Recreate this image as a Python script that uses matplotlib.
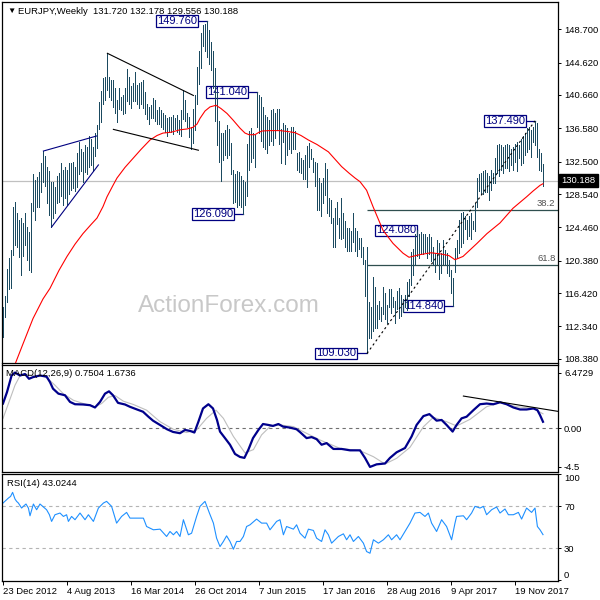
import matplotlib
matplotlib.use("Agg")
import matplotlib.pyplot as plt
from matplotlib.transforms import blended_transform_factory

plt.rcParams['font.family'] = ['Liberation Sans', 'DejaVu Sans']

# weekly EURJPY bars, index 0 = week of 23 Dec 2012
high = [
    114.7, 116.0, 119.4, 120.7, 121.7, 127.0, 127.6, 126.2, 125.4, 125.6,
    125.0, 126.2, 124.5, 123.9, 127.4, 131.0, 130.3, 130.6, 131.2, 132.3,
    133.8, 133.2, 131.9, 131.3, 130.0, 130.0, 129.4, 130.7, 131.1, 132.3,
    131.5, 131.9, 131.5, 132.3, 132.3, 132.5, 131.9, 133.5, 134.9, 134.1,
    133.7, 134.5, 134.3, 135.6, 135.3, 134.3, 136.0, 137.0, 139.8, 141.1,
    142.7, 142.9, 145.76, 142.9, 142.5, 142.5, 141.5, 140.05, 141.5, 140.45,
    140.65, 141.5, 143.9, 142.9, 141.7, 142.1, 143.5, 141.9, 142.1, 142.3,
    142.5, 141.07, 139.6, 139.2, 139.4, 140.25, 140.05, 138.8, 139.2, 138.8,
    138.4, 138.2, 137.8, 138.0, 138.0, 138.2, 137.8, 138.2, 137.6, 138.8,
    141.3, 140.05, 138.4, 138.0, 136.8, 139.0, 140.7, 144.1, 146.0, 148.2,
    149.2, 149.4, 149.76, 148.6, 147.2, 146.0, 144.0, 141.0, 137.5, 136.0,
    136.0, 136.4, 137.0, 136.5, 134.8, 131.5, 131.0, 131.3, 131.2, 130.8,
    130.2, 130.0, 134.7, 136.2, 136.6, 136.0, 135.8, 141.04, 140.6, 140.4,
    139.2, 138.2, 138.0, 137.6, 138.8, 139.0, 138.5, 139.0, 139.0, 136.5,
    137.2, 137.0, 136.6, 136.0, 136.8, 136.8, 136.2, 133.5, 133.7, 132.9,
    132.7, 133.3, 134.4, 134.8, 134.0, 132.9, 132.5, 132.3, 130.5, 129.9,
    130.5, 132.3, 131.6, 128.0, 127.8, 125.6, 126.8, 127.6, 125.6, 128.0,
    126.2, 125.2, 124.4, 124.4, 124.0, 126.2, 124.4, 124.0, 123.2, 123.2,
    122.0, 120.5, 122.1, 115.3, 114.7, 118.4, 117.2, 114.9, 115.5, 114.7,
    117.2, 116.4, 115.0, 116.9, 116.9, 115.9, 115.5, 116.7, 117.0, 116.2,
    115.7, 116.2, 117.8, 118.1, 121.4, 121.8, 123.6, 124.08, 123.7, 123.9,
    123.7, 123.7, 123.3, 123.7, 123.3, 122.1, 121.3, 122.9, 122.5, 121.3,
    122.9, 121.7, 121.3, 120.5, 119.3, 118.3, 121.9, 122.9, 125.4, 126.2,
    126.4, 125.8, 125.4, 125.8, 126.2, 125.2, 127.4, 130.5, 131.0, 131.1,
    131.3, 131.5, 131.1, 130.7, 131.5, 131.1, 133.0, 134.5, 134.7, 134.5,
    134.3, 134.5, 134.7, 134.5, 134.1, 134.3, 134.7, 134.9, 134.6, 135.3,
    135.6, 136.0, 136.6, 136.8, 136.4, 136.7, 137.49, 137.2, 134.1, 133.5,
    132.178]
low = [
    111.1, 113.5, 115.3, 116.9, 117.0, 121.1, 122.3, 122.0, 120.8, 118.6,
    120.9, 122.3, 120.5, 119.2, 119.0, 126.5, 125.4, 127.0, 127.0, 128.8,
    130.0, 129.5, 127.5, 126.0, 124.5, 125.6, 126.2, 127.4, 127.6, 128.3,
    127.2, 128.0, 127.2, 128.5, 129.0, 129.3, 128.9, 129.4, 131.0, 131.3,
    130.0, 131.2, 131.0, 131.8, 132.1, 131.3, 133.2, 134.2, 136.5, 137.3,
    139.5, 140.0, 141.3, 140.45, 140.05, 139.2, 138.4, 137.4, 139.0, 138.8,
    138.3, 138.5, 139.9, 139.5, 139.1, 139.9, 139.9, 139.5, 139.1, 139.5,
    139.1, 138.3, 137.7, 137.1, 137.9, 137.9, 137.5, 137.1, 137.1, 136.7,
    136.5, 136.1, 135.7, 136.1, 136.1, 135.9, 136.5, 136.1, 135.9, 135.7,
    137.7, 137.5, 136.7, 135.5, 134.1, 134.8, 136.4, 139.6, 142.0, 144.0,
    146.6, 146.0, 145.35, 144.4, 143.7, 141.5, 137.5, 134.5, 132.5, 130.1,
    132.7, 133.3, 133.0, 133.3, 131.0, 127.4, 127.6, 127.0, 127.2, 127.0,
    126.09, 127.2, 128.3, 131.5, 132.4, 133.0, 131.9, 136.8, 136.0, 135.0,
    134.3, 134.0, 133.5, 134.6, 135.0, 134.5, 135.4, 136.4, 134.7, 132.3,
    134.9, 132.2, 133.3, 134.1, 133.5, 134.1, 134.1, 131.5, 131.2, 131.1,
    130.4, 130.4, 129.4, 131.9, 132.8, 131.2, 129.5, 126.6, 126.6, 125.8,
    127.5, 128.4, 126.2, 125.8, 125.0, 122.0, 122.0, 124.9, 123.2, 123.0,
    123.1, 122.0, 121.6, 121.6, 121.6, 122.7, 121.6, 121.0, 121.8, 120.8,
    120.0, 116.0, 109.03, 110.9, 110.9, 111.8, 112.2, 112.1, 113.3, 113.0,
    113.9, 113.3, 112.8, 114.7, 114.0, 114.7, 112.8, 114.5, 113.4, 113.6,
    114.1, 114.7, 114.3, 116.0, 117.4, 118.6, 119.9, 121.0, 120.7, 121.2,
    121.2, 121.5, 120.7, 121.2, 120.3, 119.8, 119.0, 120.0, 118.2, 118.9,
    120.0, 119.9, 118.9, 118.5, 116.4, 114.84, 119.0, 120.7, 121.3, 122.1,
    122.6, 124.2, 123.0, 123.4, 123.0, 124.2, 124.0, 127.0, 128.9, 128.5,
    128.5, 128.8, 128.8, 127.8, 129.0, 129.9, 129.9, 131.1, 130.7, 131.5,
    131.1, 131.7, 131.7, 131.3, 132.1, 131.5, 132.5, 131.3, 132.9, 132.1,
    132.3, 133.3, 133.7, 134.1, 133.1, 134.9, 134.5, 133.1, 131.5, 131.3,
    129.556]
last_ohlc = [131.720, 132.178, 129.556, 130.188]

# 55 week moving average (red), read at these week indexes
ma_idx = [0, 6, 10, 15, 20, 23.5, 28, 32, 36, 40, 44, 47, 50, 52, 55, 57, 61, 65,
          69, 73.5, 77, 80, 84, 88.5, 92, 95, 97, 98.5, 101, 103.5, 105, 106.5,
          109, 112, 115, 118.5, 121, 123, 126, 128, 129.5, 133, 138.5, 142, 146,
          149, 152.7, 157, 162.7, 166, 169.3, 173, 176, 178.5, 181.8, 185, 190,
          195, 200, 203, 208, 214, 219, 223, 226, 230, 233.5, 237, 242, 248.5,
          255, 261.8, 265, 268.5, 270]
ma_val = [104.0, 107.7, 110.2, 113.3, 115.7, 117.0, 119.2, 120.9, 122.4, 123.7,
          124.8, 125.6, 127.0, 128.2, 129.6, 130.5, 131.8, 132.9, 134.0, 135.15,
          135.7, 136.0, 136.1, 136.4, 136.5, 136.7, 137.1, 137.8, 138.7, 139.2,
          139.3, 139.4, 139.0, 138.4, 137.6, 136.6, 136.0, 135.8, 135.8, 136.1,
          136.25, 136.3, 136.3, 136.2, 136.05, 135.7, 135.15, 134.6, 133.7, 132.8,
          131.9, 131.1, 130.5, 130.05, 129.0, 127.0, 124.1, 122.5, 121.3, 120.8,
          121.1, 121.35, 121.2, 121.0, 120.5, 120.9, 121.7, 122.5, 123.7, 125.0,
          126.8, 128.2, 128.9, 129.6, 129.8]

macd_idx = [0, 2, 4.3, 6, 8.5, 11, 13, 15, 18.5, 21.8, 23.5, 25, 27.7, 31, 33.5,
            36, 40, 43.5, 46, 48.5, 51, 53, 55, 57.5, 61, 63.5, 67, 70, 72.7, 75,
            78.5, 82, 85, 88.5, 91, 93.5, 95.7, 97.7, 100, 102.7, 105, 107, 108.5,
            111, 113.5, 116, 118.5, 120.7, 122.7, 125, 127.7, 130, 132.7, 135,
            137.7, 140, 143.5, 146.8, 148.5, 151.8, 154.3, 156.8, 159.3, 161.8,
            165.2, 169.3, 173.5, 178.5, 181, 183.5, 186.8, 191, 193.5, 196.8, 201,
            204.3, 206.8, 210.2, 213.2, 216.8, 219.3, 221.8, 224.8, 226.8, 229.3,
            231.8, 235.2, 238.5, 241.8, 245.2, 248.5, 251.8, 255.2, 258.5, 261.8,
            265.2, 267.2, 268.5, 270]
macd_val = [2.87, 4.2, 6.13, 6.47, 6.13, 6.3, 5.75, 5.94, 6.13, 6.0, 5.36, 4.6,
            4.02, 3.83, 3.06, 2.79, 2.76, 2.68, 2.41, 3.06, 4.02, 4.29, 3.83, 2.95,
            2.76, 2.49, 2.18, 1.92, 1.34, 0.88, 0.38, -0.12, -0.43, -0.58, -0.2,
            -0.31, -0.5, 0.76, 2.3, 2.79, 2.3, 0.96, -0.39, -1.15, -1.92, -2.99,
            -3.34, -3.45, -2.49, -1.15, -0.2, 0.49, 0.38, 0.27, 0.49, 0.19, 0.07,
            -0.12, -0.45, -1.15, -1.03, -1.27, -1.92, -1.73, -2.41, -2.41, -2.57,
            -2.57, -3.45, -4.5, -4.2, -4.1, -3.45, -2.8, -2.3, -0.96, 0.38, 1.41,
            1.64, 0.88, 0.96, 0.38, -0.39, 0.38, 1.15, 1.34, 2.1, 2.79, 2.87, 2.79,
            3.02, 2.79, 2.41, 2.18, 2.18, 2.3, 2.1, 1.53, 0.7504]
sig_idx = [0, 2.7, 6, 8.5, 11.8, 15.2, 20.2, 22.7, 26, 30.2, 35.2, 40.2, 46, 49.3,
           52.7, 56, 60.2, 65.2, 71.8, 78.5, 85.2, 91.8, 96.8, 101.8, 106.5, 110.2,
           115.2, 121, 125.2, 129.3, 133.5, 138.5, 145.2, 148.5, 158.5, 168.5,
           178.5, 185.2, 191, 196.8, 203.5, 210.2, 215.2, 221.8, 226.8, 233.5,
           241.8, 248.5, 256.8, 265.2, 270]
sig_val = [1.14, 2.86, 5.0, 6.1, 6.3, 6.1, 6.1, 5.7, 5.0, 4.0, 3.25, 2.87, 2.49,
           2.87, 3.6, 3.8, 3.14, 2.76, 2.1, 0.76, -0.12, -0.5, -0.2, 1.15, 2.1, 1.15,
           -0.96, -2.87, -2.49, -0.77, 0.19, 0.38, 0.19, -0.21, -1.37, -2.34, -2.61,
           -3.31, -4.16, -3.5, -2.22, 0.17, 1.27, 0.76, 0.26, 1.03, 2.5, 2.97, 2.5,
           2.31, 1.6736]
macd_trend_idx = [230.2, 277.25]
macd_trend_val = [3.74, 1.97]

rsi_idx = [0, 1.5, 2.7, 3.8, 4.8, 6, 6.8, 7.7, 9.3, 10.5, 11.5, 12.7, 13.5, 15.2,
           16.8, 18.5, 20.2, 21.8, 23.2, 24.3, 26, 28.5, 30.2, 31.8, 32.7, 34.3, 36,
           38.5, 41, 42.7, 45.2, 47.7, 50.2, 51.8, 54.3, 56.8, 59.3, 61.8, 63.5,
           66.8, 70.2, 71.8, 75.2, 78.5, 81.8, 83.5, 85.2, 86.8, 88.5, 90.2, 92.7,
           94.3, 96.8, 98.5, 101, 103.2, 105.2, 106.8, 108.5, 110.2, 111.8, 113.5,
           115.2, 116.8, 118.5, 120.2, 121.8, 123.5, 126.8, 129.3, 131.8, 133.5,
           136.8, 138.5, 140.2, 141.8, 145.2, 146.8, 148.5, 151, 152.7, 155.2,
           156.8, 159.3, 161, 162.7, 164.3, 166, 167.7, 170.2, 171.8, 173.5, 175.2,
           177.7, 180.2, 181.8, 183.5, 185.2, 187.7, 190.2, 192.7, 194.3, 196.8,
           198.5, 201, 203.5, 206, 208.5, 211, 212.7, 214.3, 216.8, 219.3, 221.8,
           224.3, 226, 226.8, 230.2, 231.8, 234.3, 236, 238.5, 240.2, 241.8, 244.3,
           246.8, 248.5, 251, 252.7, 255.2, 257.7, 259.3, 261.8, 264.3, 266, 267.2,
           268.5, 270]
rsi_val = [72.8, 75.4, 77.5, 79.1, 82.9, 76.6, 74.4, 72.8, 68.1, 70.3, 71.9, 68.1,
           60.8, 71.9, 66.5, 71.9, 69.1, 66.5, 61.8, 55.5, 61.8, 63.4, 60.2, 61.8,
           55.5, 60.2, 57.1, 63.4, 57.1, 61.8, 55.5, 68.1, 72.8, 74.4, 69.7, 53.9,
           60.2, 64.0, 58.6, 58.6, 58.6, 50.7, 47.6, 48.2, 41.3, 46.0, 42.9, 46.0,
           41.3, 57.1, 42.9, 44.4, 60.2, 69.7, 74.4, 63.4, 53.9, 39.7, 31.8, 36.6,
           41.9, 36.6, 29.3, 36.6, 36.6, 41.3, 50.7, 52.3, 57.7, 53.9, 53.9, 47.6,
           55.5, 57.1, 42.9, 50.7, 48.2, 52.3, 44.4, 39.7, 48.2, 47.0, 39.7, 36.6,
           47.6, 42.9, 35.0, 38.2, 41.3, 43.8, 38.2, 42.9, 36.6, 41.3, 35.0, 27.1,
           25.5, 38.2, 35.0, 38.2, 42.9, 38.2, 42.9, 38.2, 46.0, 53.9, 63.4, 64.0,
           60.2, 63.4, 53.9, 46.0, 57.1, 50.7, 38.2, 53.9, 60.2, 60.8, 57.1, 63.4,
           69.7, 68.1, 69.7, 61.8, 66.5, 69.1, 63.4, 67.2, 61.8, 61.8, 64.0, 57.7,
           68.1, 64.0, 68.1, 50.7, 47.6, 43.0244]

price_ticks = [148.70, 144.62, 140.66, 136.58, 132.50, 128.54, 124.46, 120.38,
               116.42, 112.34, 108.38]
date_ticks = [0, 32, 64, 96, 128, 160, 192, 224, 256]
date_labels = ['23 Dec 2012', '4 Aug 2013', '16 Mar 2014', '26 Oct 2014',
               '7 Jun 2015', '17 Jan 2016', '28 Aug 2016', '9 Apr 2017',
               '19 Nov 2017']

# swing labels: (bar index, price, text, gap in bars)
swings = [(102, 149.76, '149.760', 5), (127, 141.04, '141.040', 5),
          (120, 126.09, '126.090', 5), (182, 109.03, '109.030', 5.5),
          (207, 124.08, '124.080', 0.5), (225, 114.84, '114.840', 5),
          (266, 137.49, '137.490', 5)]
fib_levels = [('38.2', 126.62), ('61.8', 119.90)]

BAR = '#1B4A60'
NAVY = '#000080'
FS = 6.8
W, H = 600, 600


def rect(x0, y0, x1, y1):
    return [x0 / W, 1 - y1 / H, (x1 - x0) / W, (y1 - y0) / H]


fig = plt.figure(figsize=(6, 6), dpi=100)
ax = fig.add_axes(rect(2, 2, 557.5, 363))
ax_m = fig.add_axes(rect(2, 364.5, 557.5, 472))
ax_r = fig.add_axes(rect(2, 474, 557.5, 580.5))

xr = (-0.5, 277.25)
for a in (ax, ax_m, ax_r):
    a.set_xlim(*xr)
    for s in a.spines.values():
        s.set_linewidth(0.9)
    a.yaxis.tick_right()
    a.tick_params(axis='y', direction='out', length=2.5, width=0.7, pad=2.2,
                  labelsize=FS)
    a.set_xticks([])

# ---- main price panel
ax.set_ylim(107.86, 152.04)
n = len(high)
ax.vlines(range(n), low, high, color=BAR, lw=0.55, zorder=3, antialiased=False)
ax.plot(ma_idx, ma_val, color='#FF0000', lw=0.8, zorder=4)
ax.axhline(last_ohlc[3], color='#C0C0C0', lw=0.9, zorder=1)

ax.set_yticks(price_ticks)
ax.set_yticklabels(['%.3f' % p for p in price_ticks])

trans = blended_transform_factory(ax.transAxes, ax.transData)
ax.annotate('%.3f' % last_ohlc[3], xy=(1, last_ohlc[3]), xycoords=trans,
            xytext=(4, 0), textcoords='offset pixels', va='center', ha='left',
            color='white', fontsize=FS, annotation_clip=False,
            bbox=dict(boxstyle='square,pad=0.25', fc='black', ec='black'))

# wedge / triangle lines
ax.plot([20.2, 46.8], [133.8, 135.64], color=NAVY, lw=0.8, zorder=4)
ax.plot([24.3, 47.7], [124.5, 132.1], color=NAVY, lw=0.8, zorder=4)
ax.plot([52.2, 95.2], [145.76, 140.6], color='black', lw=0.8, zorder=4)
ax.plot([55.2, 97.7], [136.45, 133.9], color='black', lw=0.8, zorder=4)
ax.plot([182, 266], [109.03, 137.49], color='black', lw=0.8,
        ls=(0, (2, 2.5)), zorder=4)

for name, lvl in fib_levels:
    ax.hlines(lvl, 182, xr[1], color='#2F4F4F', lw=0.9, zorder=2)
    ax.text(xr[1] - 1, lvl + 0.25, name, ha='right', va='bottom',
            fontsize=FS, color='#505050')

for i, p, txt, gap in swings:
    ax.plot([i - gap, i], [p, p], color=NAVY, lw=0.9, zorder=2)
    ax.text(i - gap, p, txt, ha='right', va='center', fontsize=8, color=NAVY,
            zorder=2, bbox=dict(boxstyle='square,pad=0.08', fc='white',
                                ec=NAVY, lw=0.9))

ax.text(0.4077, 0.158, 'ActionForex.com', transform=ax.transAxes,
        ha='center', va='center', fontsize=17.5, color='#C8C8C8', zorder=0)

ax.annotate('\u25bc', xy=(0, 1), xycoords='axes fraction', xytext=(5, -9),
            textcoords='offset pixels', va='center', ha='left', fontsize=6)
ax.annotate('EURJPY,Weekly  ' + ' '.join('%.3f' % v for v in last_ohlc),
            xy=(0, 1), xycoords='axes fraction', xytext=(16, -9),
            textcoords='offset pixels', va='center', ha='left', fontsize=FS)

# ---- MACD panel
ax_m.set_ylim(-5.09, 7.41)
ax_m.axhline(0, color='#707070', lw=0.8, ls=(0, (3, 3)))
ax_m.plot(sig_idx, sig_val, color='#BEBEBE', lw=0.8)
ax_m.plot(macd_idx, macd_val, color='#00008B', lw=1.6)
ax_m.plot(macd_trend_idx, macd_trend_val, color='black', lw=0.8)
ax_m.set_yticks([6.4729, 0, -4.5])
ax_m.set_yticklabels(['6.4729', '0.00', '-4.5'])
ax_m.annotate('MACD(12,26,9) %.4f %.4f' % (macd_val[-1], sig_val[-1]),
              xy=(0, 1), xycoords='axes fraction', xytext=(4, -9.5),
              textcoords='offset pixels', va='center', ha='left', fontsize=FS)

# ---- RSI panel
ax_r.set_ylim(-0.2, 100.2)
for lvl in (70, 30):
    ax_r.axhline(lvl, color='#B4B4B4', lw=0.8, ls=(0, (3, 3)))
ax_r.plot(rsi_idx, rsi_val, color='#1E90FF', lw=0.8)
ax_r.set_yticks([100, 70, 30, 0])
ax_r.set_yticklabels(['100', '70', '30', '0'])
tl = ax_r.get_yticklabels()
tl[0].set_va('top')
tl[3].set_va('bottom')
ax_r.annotate('RSI(14) %.4f' % rsi_val[-1], xy=(0, 1), xycoords='axes fraction',
              xytext=(5, -10), textcoords='offset pixels', va='center',
              ha='left', fontsize=FS)

ax_r.set_xticks(date_ticks)
ax_r.set_xticklabels(date_labels, ha='left')
ax_r.tick_params(axis='x', direction='out', length=3, width=0.7, pad=1.5,
                 labelsize=FS)

fig.savefig('out.png', dpi=100)
